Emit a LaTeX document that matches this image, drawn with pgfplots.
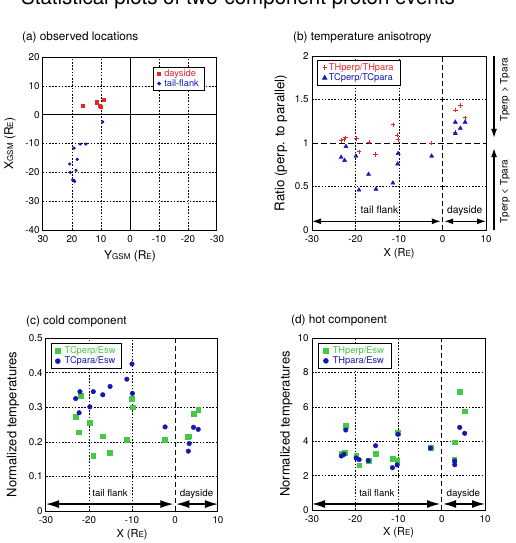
\documentclass[border=0pt]{standalone}
\usepackage{pgfplots}
\pgfplotsset{compat=1.18}
\usepackage{fontspec}
\setmainfont{TeX Gyre Heros}
\usetikzlibrary{arrows.meta}
\definecolor{myred}{RGB}{228,38,38}
\definecolor{myblue}{RGB}{22,22,178}
\definecolor{mygreen}{RGB}{70,200,70}
\newcommand{\sm}[1]{{\fontsize{8}{8}\selectfont #1}}
\pgfplotsset{
  myax/.style={scale only axis, anchor=south west,
    axis line style={line width=1pt},
    tick style={draw=none},
    ticklabel style={font=\fontsize{9.8}{10}\selectfont},
    xticklabel style={yshift=-2pt},
    /pgf/number format/assume math mode=true,
    clip=false,
    legend cell align=left,
    legend style={font=\fontsize{9.3}{10}\selectfont, draw=black, line width=0.9pt,
      inner xsep=4pt, inner ysep=1pt, row sep=-2pt, fill=white},
  },
}
\tikzset{
  gridl/.style={line width=0.5pt, dash pattern=on 1.6pt off 1.6pt},
  zerol/.style={line width=0.7pt, dash pattern=on 5pt off 3pt},
  arr/.style={line width=1.2pt, {Latex[length=9pt,width=6pt]}-{Latex[length=9pt,width=6pt]}},
  arrb/.style={line width=1.3pt, {Latex[length=13pt,width=8pt]}-{Latex[length=13pt,width=8pt]}},
}
\begin{document}
\begin{tikzpicture}
\useasboundingbox (0pt,0pt) rectangle (516pt,-543pt);
\node[anchor=base, font=\fontsize{20.5}{22}\selectfont, inner sep=0pt] at (238pt,-4.5pt) {Statistical plots of two-component proton events};
\node[anchor=base west, font=\fontsize{11.8}{14}\selectfont, inner sep=0pt] at (22pt,-40.5pt) {(a) observed locations};
\node[anchor=base west, font=\fontsize{11.8}{14}\selectfont, inner sep=0pt] at (293pt,-40.5pt) {(b) temperature anisotropy};
\node[anchor=base west, font=\fontsize{11.8}{14}\selectfont, inner sep=0pt] at (26pt,-324pt) {(c) cold component};
\node[anchor=base west, font=\fontsize{11.8}{14}\selectfont, inner sep=0pt] at (291pt,-323.5pt) {(d) hot component};

% (a)
\begin{axis}[myax, at={(43pt,-230pt)}, width=174pt, height=173pt,
  x dir=reverse, xmin=-30, xmax=30, ymin=-40, ymax=20,
  xtick={-30,-20,-10,0,10,20,30}, ytick={-40,-30,-20,-10,0,10,20},
  xlabel={Y\sm{GSM} (R\sm{E})}, ylabel={X\sm{GSM} (R\sm{E})},
  xlabel style={font=\fontsize{12}{13}\selectfont, at={(axis description cs:0.5,-0.155)}, anchor=center},
  ylabel style={font=\fontsize{12}{13}\selectfont, at={(axis description cs:-0.19,0.5)}, anchor=center},
  legend style={at={(0.933,0.944)}, anchor=north east, row sep=-3pt},
]
\pgfplotsinvokeforeach{-20,-10,10,20}{\draw[gridl] (axis cs:#1,-40) -- (axis cs:#1,20);}
\pgfplotsinvokeforeach{-30,-20,-10,10}{\draw[gridl] (axis cs:-30,#1) -- (axis cs:30,#1);}
\draw[line width=0.7pt] (axis cs:0,-40) -- (axis cs:0,20);
\draw[line width=0.7pt] (axis cs:-30,0) -- (axis cs:30,0);
\addplot[only marks, mark=square*, mark size=1.6pt, color=myred] coordinates {
 (16.3,3.2) (11.5,4.3) (10.1,2.9) (10.4,3.2) (9.0,5.3)};
\addlegendentry{\textcolor{myred}{\hspace{1.5pt}dayside}}
\addplot[only marks, mark=*, mark size=1.4pt, color=myblue] coordinates {
 (9.4,-2.5) (19.3,-11.6) (17.2,-10.2) (15.2,-10.2) (18.2,-15.5) (20.8,-17.1)
 (18.6,-19.3) (20.6,-20.0) (19.8,-22.6) (19.3,-22.8) (19.1,-23.2)};
\addlegendentry{\textcolor{myblue}{\hspace{1.5pt}tail-flank}}
\end{axis}

% (b)
\begin{axis}[myax, at={(312pt,-230pt)}, width=174pt, height=174pt,
  xmin=-30, xmax=10, ymin=0, ymax=2,
  xtick={-30,-20,-10,0,10}, ytick={0,0.5,1,1.5,2},
  xlabel={X (R\sm{E})}, ylabel={Ratio (perp. to parallel)},
  xlabel style={font=\fontsize{11}{13}\selectfont, at={(axis description cs:0.5,-0.138)}, anchor=center},
  ylabel style={font=\fontsize{13.3}{14}\selectfont, at={(axis description cs:-0.178,0.5)}, anchor=center},
  legend style={at={(0.029,0.977)}, anchor=north west, inner xsep=5pt},
]
\pgfplotsinvokeforeach{-20,-10}{\draw[gridl] (axis cs:#1,0) -- (axis cs:#1,2);}
\pgfplotsinvokeforeach{0.5,1.5}{\draw[gridl] (axis cs:-30,#1) -- (axis cs:10,#1);}
\draw[line width=0.7pt, dash pattern=on 6pt off 3pt] (axis cs:-30,1) -- (axis cs:10,1);
\draw[zerol] (axis cs:0,0) -- (axis cs:0,2);
\addplot[only marks, mark=+, mark size=2.2pt, line width=0.6pt, color=myred] coordinates {
 (-23.3,1.03) (-22.6,1.04) (-22.3,1.06) (-19.8,1.05) (-19.2,0.90) (-16.9,1.01)
 (-15.4,0.87) (-11.4,1.21) (-10.4,1.09) (-10.2,1.04) (-2.6,1.00)
 (3.0,1.38) (4.1,1.43) (5.2,1.29) (2.9,1.12)};
\addlegendentry{\textcolor{myred}{THperp/THpara}}
\addplot[only marks, mark=triangle*, mark size=2.4pt, color=myblue] coordinates {
 (-23.3,0.836) (-22.5,0.80) (-22.2,0.96) (-19.9,0.85) (-19.2,0.46) (-17.0,0.64)
 (-15.3,0.47) (-11.4,0.54) (-10.3,0.76) (-10.2,0.88) (-2.5,0.85)
 (2.95,1.24) (2.95,1.11) (4.1,1.17) (5.2,1.24)};
\addlegendentry{\textcolor{myblue}{TCperp/TCpara}}
\draw[arr] (axis cs:-30,0.10) -- (axis cs:-0.4,0.10);
\draw[arr] (axis cs:0.4,0.10) -- (axis cs:10,0.10);
\node[font=\fontsize{10.3}{12}\selectfont, anchor=base] at (axis cs:-14.5,0.19) {tail flank};
\node[font=\fontsize{10.3}{12}\selectfont, anchor=base] at (axis cs:5.1,0.19) {dayside};
\draw[line width=1.2pt, -{Latex[length=9pt,width=6pt]}] (axis cs:11.85,2) -- (axis cs:11.85,1.06);
\draw[line width=1.2pt, -{Latex[length=9pt,width=6pt]}] (axis cs:11.85,0) -- (axis cs:11.85,0.94);
\node[font=\fontsize{10}{12}\selectfont, rotate=90] at (axis cs:14.4,1.61) {Tperp > Tpara};
\node[font=\fontsize{10}{12}\selectfont, rotate=90] at (axis cs:14.4,0.44) {Tperp < Tpara};
\end{axis}

% (c)
\begin{axis}[myax, at={(46pt,-511pt)}, width=172pt, height=173pt,
  xmin=-30, xmax=10, ymin=0, ymax=0.5,
  xtick={-30,-20,-10,0,10}, ytick={0,0.1,0.2,0.3,0.4,0.5},
  xlabel={X (R\sm{E})}, ylabel={Normalized temperatures},
  xlabel style={font=\fontsize{11}{13}\selectfont, at={(axis description cs:0.5,-0.139)}, anchor=center},
  ylabel style={font=\fontsize{13}{14}\selectfont, at={(axis description cs:-0.192,0.5)}, anchor=center},
  legend style={at={(0.029,0.971)}, anchor=north west},
]
\pgfplotsinvokeforeach{-20,-10}{\draw[gridl] (axis cs:#1,0) -- (axis cs:#1,0.5);}
\pgfplotsinvokeforeach{0.1,0.2,0.3,0.4}{\draw[gridl] (axis cs:-30,#1) -- (axis cs:10,#1);}
\draw[zerol] (axis cs:0,0) -- (axis cs:0,0.5);
\addplot[only marks, mark=square*, mark size=2.4pt, color=mygreen] coordinates {
 (-23.1,0.273) (-22.4,0.228) (-22.0,0.333) (-19.8,0.255) (-19.0,0.159) (-16.8,0.216)
 (-15.1,0.169) (-11.2,0.207) (-10.1,0.324) (-9.9,0.300) (-2.4,0.205)
 (3.2,0.216) (2.9,0.214) (4.3,0.281) (5.4,0.292)};
\addlegendentry{\textcolor{mygreen}{\hspace{2.5pt}TCperp/Esw}}
\addplot[only marks, mark=*, mark size=2.3pt, color=myblue] coordinates {
 (-23.1,0.325) (-22.3,0.284) (-22.1,0.345) (-19.8,0.301) (-19.0,0.345) (-16.8,0.336)
 (-15.1,0.360) (-11.2,0.381) (-10.0,0.425) (-9.9,0.340) (-2.3,0.243)
 (3.1,0.173) (3.3,0.195) (4.3,0.242) (5.4,0.236)};
\addlegendentry{\textcolor{myblue}{\hspace{2.5pt}TCpara/Esw}}
\draw[arrb] (axis cs:-30,0.02) -- (axis cs:-0.4,0.02);
\draw[arrb] (axis cs:0.3,0.02) -- (axis cs:10,0.02);
\node[font=\fontsize{9.6}{12}\selectfont, anchor=base] at (axis cs:-15.1,0.041) {tail flank};
\node[font=\fontsize{9.8}{12}\selectfont, anchor=base] at (axis cs:5.0,0.041) {dayside};
\end{axis}

% (d)
\begin{axis}[myax, at={(312pt,-510pt)}, width=173pt, height=172pt,
  xmin=-30, xmax=10, ymin=0, ymax=10,
  xtick={-30,-20,-10,0,10}, ytick={0,2,4,6,8,10},
  xlabel={X (R\sm{E})}, ylabel={Normalized temperatures},
  xlabel style={font=\fontsize{11}{13}\selectfont, at={(axis description cs:0.5,-0.134)}, anchor=center},
  ylabel style={font=\fontsize{13}{14}\selectfont, at={(axis description cs:-0.149,0.5)}, anchor=center},
  legend style={at={(0.035,0.971)}, anchor=north west, inner xsep=5pt},
]
\pgfplotsinvokeforeach{-20,-10}{\draw[gridl] (axis cs:#1,0) -- (axis cs:#1,10);}
\pgfplotsinvokeforeach{2,4,6,8}{\draw[gridl] (axis cs:-30,#1) -- (axis cs:10,#1);}
\draw[zerol] (axis cs:0,0) -- (axis cs:0,10);
\addplot[only marks, mark=square*, mark size=2.4pt, color=mygreen] coordinates {
 (-23.2,3.26) (-22.5,3.33) (-22.2,4.88) (-19.8,3.16) (-19.1,2.60) (-16.9,2.88)
 (-15.3,3.27) (-11.3,2.98) (-10.3,2.87) (-10.1,4.50) (-2.6,3.60)
 (2.9,3.94) (3.1,3.94) (2.9,2.92) (4.1,6.86) (5.3,5.74)};
\addlegendentry{\textcolor{mygreen}{\hspace{2.5pt}THperp/Esw}}
\addplot[only marks, mark=*, mark size=2.3pt, color=myblue] coordinates {
 (-23.2,3.14) (-22.6,3.24) (-22.2,4.65) (-19.8,3.02) (-19.1,2.93) (-17.0,2.87)
 (-15.3,3.74) (-11.4,2.46) (-10.3,2.62) (-10.1,4.40) (-2.6,3.60)
 (3.0,2.85) (3.0,2.63) (4.15,4.80) (5.3,4.46)};
\addlegendentry{\textcolor{myblue}{\hspace{2.5pt}THpara/Esw}}
\draw[arrb] (axis cs:-30,0.35) -- (axis cs:-0.4,0.35);
\draw[arrb] (axis cs:0.3,0.35) -- (axis cs:10,0.35);
\node[font=\fontsize{9.6}{12}\selectfont, anchor=base] at (axis cs:-15.0,0.8) {tail flank};
\node[font=\fontsize{9.8}{12}\selectfont, anchor=base] at (axis cs:5.0,0.8) {dayside};
\end{axis}
\end{tikzpicture}
\end{document}
